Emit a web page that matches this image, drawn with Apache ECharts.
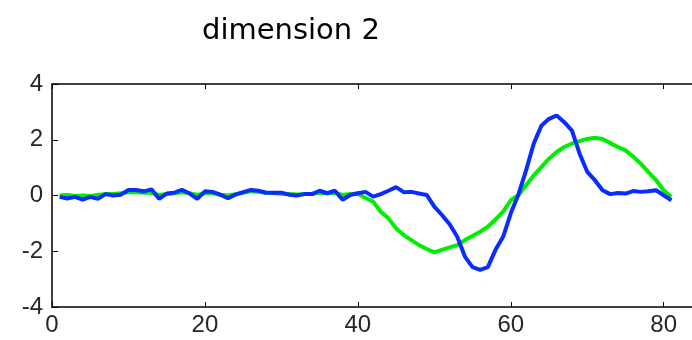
<!DOCTYPE html>
<html>
<head>
<meta charset="utf-8">
<script src="https://cdn.jsdelivr.net/npm/echarts@6/dist/echarts.min.js"></script>
<style>
  html, body { margin: 0; padding: 0; background: #fff; }
  #chart { width: 692px; height: 340px; }
</style>
</head>
<body>
<div id="chart"></div>
<script>
// sample index (time step)
var steps = [];
for (var i = 1; i <= 81; i++) steps.push(i);

var greenVals = [
  0.0, 0.02, -0.02, 0.0, -0.02, 0.02, 0.05, 0.05, 0.08, 0.12,
  0.12, 0.1, 0.1, 0.02, 0.05, 0.08, 0.12, 0.08, 0.02, 0.08,
  0.08, 0.03, 0.0, 0.05, 0.1, 0.15, 0.13, 0.1, 0.08, 0.06,
  0.05, 0.04, 0.05, 0.06, 0.1, 0.08, 0.1, 0.02, 0.05, 0.06,
  -0.09, -0.22, -0.58, -0.82, -1.18, -1.42, -1.6, -1.78, -1.92, -2.04,
  -1.95, -1.86, -1.78, -1.6, -1.45, -1.3, -1.12, -0.86, -0.58, -0.17,
  0.01, 0.37, 0.72, 1.02, 1.32, 1.56, 1.74, 1.86, 1.95, 2.03,
  2.07, 2.03, 1.88, 1.74, 1.62, 1.4, 1.14, 0.84, 0.55, 0.19,
  -0.05
];

var blueVals = [
  -0.05, -0.11, -0.05, -0.15, -0.05, -0.12, 0.05, 0.0, 0.03, 0.2,
  0.2, 0.15, 0.22, -0.12, 0.07, 0.1, 0.2, 0.07, -0.12, 0.15,
  0.13, 0.03, -0.1, 0.03, 0.12, 0.2, 0.17, 0.1, 0.1, 0.1,
  0.03, 0.0, 0.05, 0.05, 0.17, 0.08, 0.17, -0.15, 0.02, 0.08,
  0.13, -0.04, 0.05, 0.17, 0.3, 0.12, 0.13, 0.07, 0.02, -0.4,
  -0.7, -1.03, -1.48, -2.19, -2.57, -2.67, -2.57, -1.95, -1.48, -0.64,
  0.04, 0.9, 1.86, 2.5, 2.75, 2.87, 2.63, 2.33, 1.5, 0.85,
  0.55, 0.19, 0.05, 0.09, 0.07, 0.16, 0.13, 0.15, 0.19, 0.01,
  -0.17
];

var xTicks = [0, 20, 40, 60, 80];
var yTicks = [-4, -2, 0, 2, 4];
var xMax = 83.7; // box runs past the right edge of the picture

function pairs(vals) {
  return steps.map(function (s, i) { return [s, vals[i]]; });
}

var chart = echarts.init(document.getElementById('chart'));

var labelStyle = {
  fontFamily: 'Liberation Sans',
  fontSize: 24,
  color: '#262626'
};

function xAxisOf(pos, showLabels) {
  return {
    type: 'value',
    position: pos,
    min: xTicks[0],
    max: xMax,
    interval: 20,
    splitLine: { show: false },
    axisLine: { onZero: false, lineStyle: { color: '#000', width: 1.5 } },
    axisTick: { inside: true, length: 5, lineStyle: { color: '#000' } },
    axisLabel: showLabels
      ? Object.assign({ margin: 6, showMaxLabel: false }, labelStyle)
      : { show: false }
  };
}

chart.setOption({
  animation: false,
  title: {
    text: 'dimension 2',
    left: 197,
    top: 12,
    textStyle: {
      fontFamily: 'DejaVu Sans',
      fontSize: 29,
      fontWeight: 'normal',
      color: '#000'
    }
  },
  grid: {
    left: 52,
    top: 84,
    right: 0,
    bottom: 33
  },
  xAxis: [xAxisOf('bottom', true), xAxisOf('top', false)],
  yAxis: {
    type: 'value',
    min: yTicks[0],
    max: yTicks[yTicks.length - 1],
    interval: 2,
    splitLine: { show: false },
    axisLine: { show: true, onZero: false, lineStyle: { color: '#000', width: 1.5 } },
    axisTick: { show: true, inside: true, length: 6, lineStyle: { color: '#000' } },
    axisLabel: Object.assign({ margin: 9 }, labelStyle)
  },
  series: [
    {
      type: 'line',
      data: pairs(greenVals),
      showSymbol: false,
      lineStyle: { color: '#00ee00', width: 4 },
      z: 2
    },
    {
      type: 'line',
      data: pairs(blueVals),
      showSymbol: false,
      lineStyle: { color: '#0a2cff', width: 4 },
      z: 3
    }
  ]
});
</script>
</body>
</html>
